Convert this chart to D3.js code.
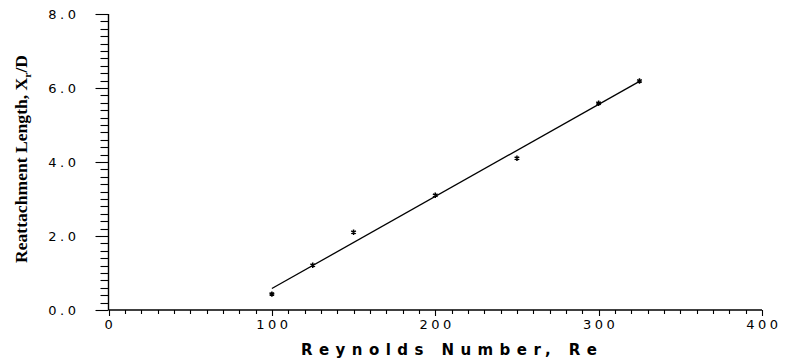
<!DOCTYPE html>
<meta charset="utf-8">
<body style="margin:0;background:#fff">
<script src="https://d3js.org/d3.v7.min.js"></script>
<script>
var width = 786,
    height = 364;

// measured data (Re vs reattachment length)
var reynolds = [100, 125, 150, 200, 250, 300, 325];
var reattach = [0.43, 1.21, 2.1, 3.1, 4.1, 5.59, 6.19];

// fitted line end points
var fitRe = [100, 325];
var fitXr = [0.58, 6.18];

var xMajor = [0, 100, 200, 300, 400];
var yMajor = [0, 2, 4, 6, 8];
var xMinor = d3.range(0, 401, 10);
var yMinor = d3.range(0, 41).map(function(i) { return i / 5; });

var x = d3.scaleLinear().domain([0, 400]).range([108.5, 762]);
var y = d3.scaleLinear().domain([0, 8]).range([310, 14]);

var svg = d3.select("body").append("svg")
    .attr("width", width)
    .attr("height", height);

var x0 = x(0), y0 = y(0);

// axis lines
svg.append("line")
    .attr("x1", x0).attr("x2", x0)
    .attr("y1", y(8)).attr("y2", y0)
    .attr("stroke", "#000").attr("stroke-width", 1.4);
svg.append("line")
    .attr("x1", x0).attr("x2", x(400))
    .attr("y1", y0).attr("y2", y0)
    .attr("stroke", "#000").attr("stroke-width", 1.4);

// y ticks, every 0.2, longer on the majors
svg.append("g").selectAll("line")
    .data(yMinor)
    .join("line")
    .attr("x1", function(d) { return x0 - (d % 2 < 1e-6 || 2 - d % 2 < 1e-6 ? 13 : 8); })
    .attr("x2", x0)
    .attr("y1", function(d) { return Math.round(y(d)) + 0.5; })
    .attr("y2", function(d) { return Math.round(y(d)) + 0.5; })
    .attr("stroke", "#000")
    .attr("stroke-width", 1.1);

// x ticks, every 10, longer on the majors
svg.append("g").selectAll("line")
    .data(xMinor)
    .join("line")
    .attr("x1", function(d) { return Math.round(x(d)) + 0.5; })
    .attr("x2", function(d) { return Math.round(x(d)) + 0.5; })
    .attr("y1", y0)
    .attr("y2", function(d) { return y0 + (d % 100 === 0 ? 6 : 4); })
    .attr("stroke", "#000")
    .attr("stroke-width", 1.1);

// tick labels
svg.append("g").selectAll("text")
    .data(yMajor)
    .join("text")
    .attr("x", x0 - 29)
    .attr("y", function(d) { return y(d); })
    .attr("dy", "0.35em")
    .attr("text-anchor", "end")
    .style("font-family", "'DejaVu Sans', sans-serif")
    .style("font-size", "13px")
    .style("letter-spacing", "3.5px")
    .text(d3.format(".1f"));

svg.append("g").selectAll("text")
    .data(xMajor)
    .join("text")
    .attr("x", function(d) { return x(d) + 2; })
    .attr("y", y0 + 19)
    .attr("text-anchor", "middle")
    .style("font-family", "'DejaVu Sans', sans-serif")
    .style("font-size", "13px")
    .style("letter-spacing", "3.5px")
    .text(d3.format("d"));

// fit line
var line = d3.line()
    .x(function(d) { return x(d[0]); })
    .y(function(d) { return y(d[1]); });

svg.append("path")
    .datum(d3.zip(fitRe, fitXr))
    .attr("d", line)
    .attr("fill", "none")
    .attr("stroke", "#000")
    .attr("stroke-width", 1.3);

// data points as small asterisks
var star = d3.symbol().type(d3.symbolAsterisk).size(20);
svg.append("g").selectAll("path")
    .data(d3.zip(reynolds, reattach))
    .join("path")
    .attr("d", star)
    .attr("transform", function(d) { return "translate(" + x(d[0]) + "," + y(d[1]) + ")"; })
    .attr("fill", "none")
    .attr("stroke", "#000")
    .attr("stroke-width", 1.5);

// axis titles
svg.append("text")
    .attr("x", 449)
    .attr("y", 355)
    .attr("text-anchor", "middle")
    .attr("textLength", 296)
    .attr("lengthAdjust", "spacing")
    .style("font-family", "'DejaVu Sans', sans-serif")
    .style("font-weight", "bold")
    .style("font-size", "15px")
    .text("Reynolds Number, Re");

var ylab = svg.append("text")
    .attr("transform", "translate(27,159) rotate(-90)")
    .attr("text-anchor", "middle")
    .attr("textLength", 208)
    .attr("lengthAdjust", "spacingAndGlyphs")
    .style("font-family", "'Liberation Serif', serif")
    .style("font-weight", "bold")
    .style("font-size", "17px");
ylab.append("tspan").text("Reattachment Length, X");
ylab.append("tspan").attr("dy", 4).style("font-size", "11px").text("r");
ylab.append("tspan").attr("dy", -4).text("/D");
</script>
</body>
